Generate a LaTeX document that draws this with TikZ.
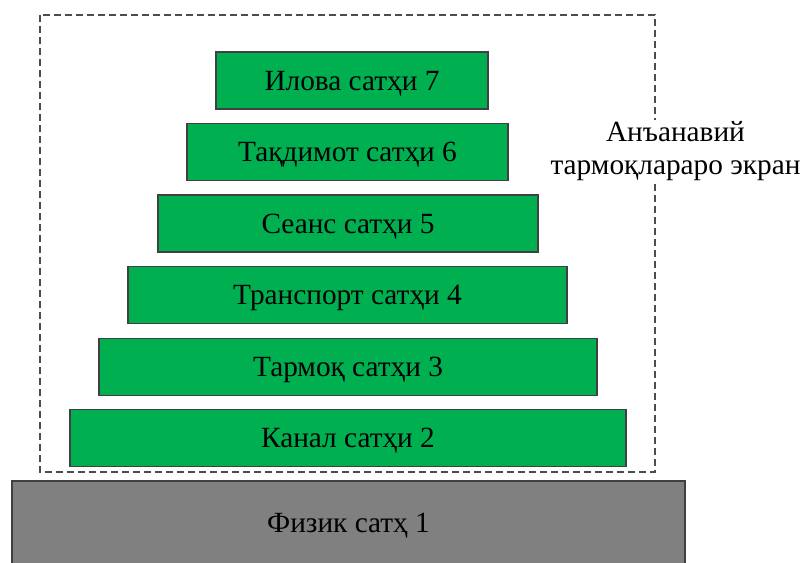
\documentclass[tikz,border=0pt]{standalone}
\usepackage{fontspec}
\setmainfont{Liberation Serif}
\definecolor{layergreen}{HTML}{00B050}
\definecolor{physgray}{HTML}{808080}
\tikzset{
  layer/.style={draw=black!75, line width=1.2pt, fill=layergreen, minimum height=57pt,
    inner sep=0pt, text depth=0pt, font=\fontsize{29.3}{34}\selectfont},
  physlayer/.style={layer, fill=physgray, minimum height=84pt},
  frame/.style={draw=black!70, line width=1.2pt, dash pattern=on 7pt off 4pt},
}
\begin{document}
\begin{tikzpicture}[x=1pt,y=-1pt]
\useasboundingbox (0,0) rectangle (800,562);

%dashed frame round the upper six layers
\draw[frame] (40,15) rectangle (655,472);

%layers 7 to 2, each one wider than the one above
\node[layer, minimum width=272pt] (app)  at (352,80.5) {Илова сатҳи 7};
\node[layer, minimum width=321pt] (pres) at (347.5,152) {Тақдимот сатҳи 6};
\node[layer, minimum width=380pt] (sess) at (348,223.5) {Сеанс сатҳи 5};
\node[layer, minimum width=439pt] (trans) at (347.5,295) {Транспорт сатҳи 4};
\node[layer, minimum width=498pt] (net)  at (348,367) {Тармоқ сатҳи 3};
\node[layer, minimum width=556pt] (link) at (348,438) {Канал сатҳи 2};

%physical layer below the frame
\node[physlayer, minimum width=673pt] (phys) at (348.5,523) {Физик сатҳ 1};

%label over the right side of the frame
\node[fill=white, inner sep=2pt, align=center, font=\fontsize{29.3}{33}\selectfont]
  (firewall) at (675.5,151.5) {Анъанавий\\тармоқлараро экран};
\end{tikzpicture}
\end{document}
